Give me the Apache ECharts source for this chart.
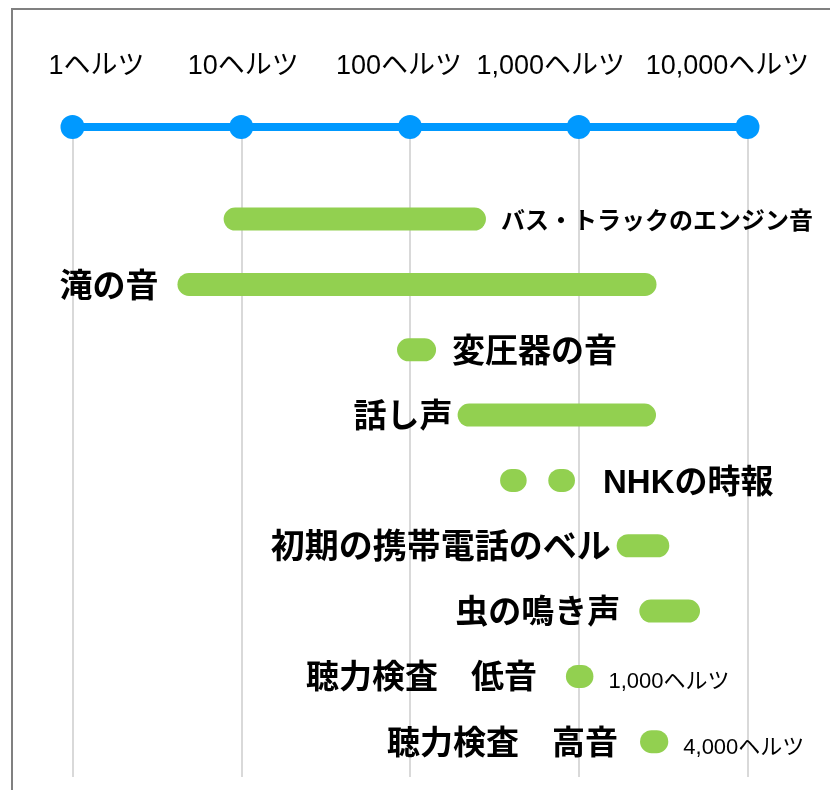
<!DOCTYPE html>
<html>
<head>
<meta charset="utf-8">
<style>
  html, body { margin: 0; padding: 0; background: #fff; }
  #chart { width: 830px; height: 790px; }
</style>
<script src="https://cdn.jsdelivr.net/npm/echarts@6/dist/echarts.min.js"></script>
</head>
<body>
<div id="chart"></div>
<script>
// top frequency scale
const tickValues = [1, 10, 100, 1000, 10000]
const tickLabels = ['1ヘルツ', '10ヘルツ', '100ヘルツ', '1,000ヘルツ', '10,000ヘルツ']

// one entry per row
const sounds = ['バス・トラックのエンジン音', '滝の音', '変圧器の音', '話し声', 'NHKの時報',
  '初期の携帯電話のベル', '虫の鳴き声', '聴力検査　低音', '聴力検査　高音']
const notes = ['', '', '', '', '', '', '', '1,000ヘルツ', '4,000ヘルツ']

// frequency ranges (Hz), NHK has two tones on the same row
const barRow = [0, 1, 2, 3, 4, 4, 5, 6, 7, 8]
const barLow = [9.2, 4.9, 98, 224, 400, 772, 1963, 2673, 982, 2700]
const barHigh = [241, 2470, 122, 2453, 420, 812, 2940, 4472, 1044, 2900]

// layout
const labelSide = ['right', 'left', 'right', 'left', 'right', 'left', 'left', 'left', 'left']
const labelGap = [15, 19, 16, 5, 28, 6, 19, 29, 22]
const labelSize = [24, 33, 33, 33, 33, 34, 33, 33, 33]
const tickLabelShift = [24, 2, -11, -28, -20]
const Y_TOP = -1.41
const Y_BOTTOM = 8.54

const GREEN = '#92d050'
const BLUE = '#0099ff'
const FONT = "'Liberation Sans', 'Noto Sans CJK JP', sans-serif"
const barR = 11.5

const chart = echarts.init(document.getElementById('chart'))

// the bar that carries the row name (outermost one on the label side)
function labelBarOf(row) {
  return labelSide[row] === 'right' ? barRow.lastIndexOf(row) : barRow.indexOf(row)
}

chart.setOption({
  animation: false,
  graphic: [{
    type: 'rect',
    silent: true,
    shape: { x: 12, y: 9, width: 900, height: 900 },
    style: { fill: 'none', stroke: '#808080', lineWidth: 2 }
  }],
  grid: { left: 72.5, right: 82.5, top: 127, bottom: 13 },
  xAxis: {
    type: 'log',
    logBase: 10,
    min: 1,
    max: 10000,
    position: 'top',
    axisLine: { show: true, onZero: false, lineStyle: { color: BLUE, width: 8 } },
    axisTick: { show: false },
    axisLabel: { show: false },
    splitLine: { show: true, lineStyle: { color: '#d9d9d9', width: 2 } }
  },
  yAxis: { type: 'value', inverse: true, min: Y_TOP, max: Y_BOTTOM, show: false },
  series: [
    {
      type: 'scatter',
      symbolSize: 24,
      z: 5,
      itemStyle: { color: BLUE, opacity: 1 },
      data: tickValues.map((v, i) => ({
        value: [v, Y_TOP],
        label: {
          show: true,
          position: 'inside',
          offset: [tickLabelShift[i], -60],
          formatter: tickLabels[i],
          fontSize: 27,
          color: '#000',
          fontFamily: FONT
        }
      }))
    },
    {
      type: 'custom',
      z: 3,
      data: barRow.map((r, i) => [barLow[i], barHigh[i], r]),
      renderItem(params, api) {
        const i = params.dataIndex
        const row = api.value(2)
        const a = api.coord([api.value(0), row])
        const b = api.coord([api.value(1), row])
        const bar = {
          type: 'rect',
          shape: { x: a[0] - barR, y: a[1] - barR, width: b[0] - a[0] + 2 * barR, height: 2 * barR, r: barR },
          style: { fill: GREEN }
        }
        if (labelBarOf(row) === i) {
          bar.textContent = {
            style: { text: sounds[row], fontSize: labelSize[row], fontWeight: 'bold', fill: '#000', fontFamily: FONT }
          }
          bar.textConfig = { position: labelSide[row], distance: labelGap[row], offset: [0, 3] }
        }
        const children = [bar]
        if (notes[row]) {
          children.push({
            type: 'text',
            x: b[0] + barR + 15,
            y: a[1] + 6,
            style: { text: notes[row], fontSize: 22, fill: '#000', fontFamily: FONT, align: 'left', verticalAlign: 'middle' }
          })
        }
        return { type: 'group', children }
      }
    }
  ]
})
</script>
</body>
</html>
